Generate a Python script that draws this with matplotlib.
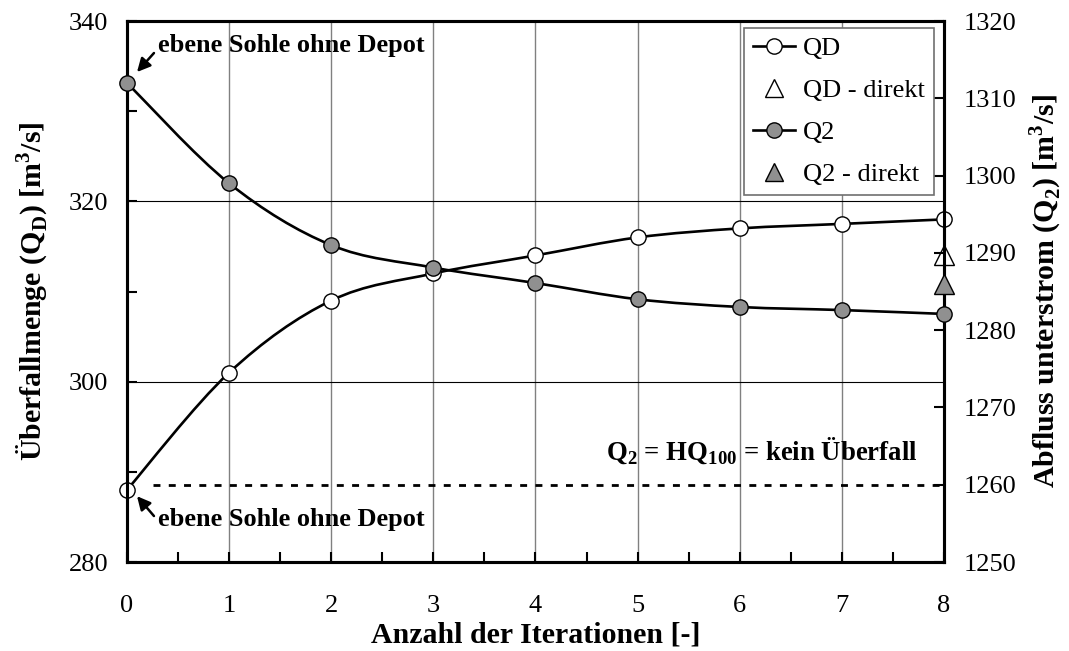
import numpy as np
import matplotlib
matplotlib.use('Agg')
import matplotlib.pyplot as plt
from matplotlib.path import Path
from matplotlib.patches import PathPatch
from matplotlib.lines import Line2D
from matplotlib.ticker import MultipleLocator

plt.rcParams['font.family'] = ['Liberation Serif', 'DejaVu Serif']
plt.rcParams['mathtext.fontset'] = 'custom'
plt.rcParams['mathtext.rm'] = 'Liberation Serif'
plt.rcParams['mathtext.bf'] = 'Liberation Serif:bold'

# Daten
iter_nr = [0, 1, 2, 3, 4, 5, 6, 7, 8]
qd = [288.0, 301.0, 309.0, 312.0, 314.0, 316.0, 317.0, 317.5, 318.0]
q2 = [1312.0, 1299.0, 1291.0, 1288.1, 1286.1, 1284.0, 1283.0, 1282.6, 1282.1]
qd_direkt = 314.0
q2_direkt = 1286.0
hq100 = 1260.0


def glatt(x, y):
    # geglaettete Linie wie in Excel (Bezier-Segmente durch die Punkte)
    p = np.column_stack([x, y]).astype(float)
    p = np.vstack([p[0], p, p[-1]])
    verts = [p[1]]
    codes = [Path.MOVETO]
    for i in range(1, len(p) - 2):
        c1 = p[i] + (p[i + 1] - p[i - 1]) / 6.0
        c2 = p[i + 1] - (p[i + 2] - p[i]) / 6.0
        verts += [c1, c2, p[i + 1]]
        codes += [Path.CURVE4] * 3
    return Path(verts, codes)


grau = '#909090'

fig = plt.figure(figsize=(10.69, 6.51), dpi=100)
ax = fig.add_axes([0.1188, 0.1367, 0.7642, 0.831])
ax2 = ax.twinx()

ax.set_xlim(0, 8)
ax.set_ylim(280, 340)
ax2.set_ylim(1250, 1320)

# Gitter
for xi in range(1, 8):
    ax.axvline(xi, color='#808080', lw=1.0, zorder=0)
for yi in [300, 320]:
    ax.axhline(yi, color='black', lw=0.8, zorder=0)

# QD
ax.add_patch(PathPatch(glatt(iter_nr, qd), fill=False, lw=1.9, color='black', zorder=2))
ax.plot(iter_nr, qd, 'o', ms=11, mfc='white', mec='black', mew=1.0, zorder=3, clip_on=False)
ax.plot([8], [qd_direkt], '^', ms=14, mfc='white', mec='black', mew=1.0, zorder=3, clip_on=False)

# Q2
ax2.add_patch(PathPatch(glatt(iter_nr, q2), fill=False, lw=1.9, color='black', zorder=2))
ax2.plot(iter_nr, q2, 'o', ms=11, mfc=grau, mec='black', mew=1.0, zorder=3, clip_on=False)
ax2.plot([8], [q2_direkt], '^', ms=14, mfc=grau, mec='black', mew=1.0, zorder=3, clip_on=False)

ax2.plot([0.25, 8], [hq100, hq100], color='black', lw=2.0, ls=(0, (2.5, 3)), zorder=2)
ax2.text(7.74, 1263.2, r'Q$_\mathbf{2}$ = HQ$_\mathbf{100}$ = kein Überfall',
         fontsize=19.3, fontweight='bold', ha='right', va='baseline')

# Beschriftungen mit Pfeil
pfeil = dict(arrowstyle='-|>', color='black', lw=1.8, mutation_scale=20, shrinkA=0, shrinkB=0)
ax2.annotate('', xy=(0.098, 1313.4), xytext=(0.264, 1315.86), arrowprops=pfeil)
ax2.text(0.30, 1316.8, 'ebene Sohle ohne Depot', fontsize=19, fontweight='bold',
         va='center', ha='left')
ax.annotate('', xy=(0.098, 287.3), xytext=(0.264, 285.1), arrowprops=pfeil)
ax.text(0.30, 284.7, 'ebene Sohle ohne Depot', fontsize=19, fontweight='bold',
        va='center', ha='left')

ax.set_xlabel('Anzahl der Iterationen [-]', fontsize=21.5, fontweight='bold', labelpad=3)
ax.set_ylabel(r'Überfallmenge (Q$_\mathbf{D}$) [m$^\mathbf{3}$/s]', fontsize=21.5, fontweight='bold', labelpad=13)
ax2.set_ylabel(r'Abfluss unterstrom (Q$_\mathbf{2}$) [m$^\mathbf{3}$/s]', fontsize=21.5, fontweight='bold', labelpad=8)

ax.xaxis.set_major_locator(MultipleLocator(1))
ax.xaxis.set_minor_locator(MultipleLocator(0.5))
ax.yaxis.set_major_locator(MultipleLocator(20))
ax.yaxis.set_minor_locator(MultipleLocator(10))
ax2.yaxis.set_major_locator(MultipleLocator(10))

ax.tick_params(axis='x', which='both', direction='in', top=False, labelsize=19, pad=24, length=7, width=1.5)
ax.tick_params(axis='y', which='both', direction='in', right=False, labelsize=19, pad=13.5, length=7, width=1.5)
ax2.tick_params(axis='y', which='both', direction='in', labelsize=19, pad=14.5, length=7, width=1.5)

for a in (ax, ax2):
    for s in a.spines.values():
        s.set_linewidth(2.2)

handles = [
    Line2D([], [], color='black', lw=1.9, marker='o', ms=11, mfc='white', mec='black'),
    Line2D([], [], ls='none', marker='^', ms=13, mfc='white', mec='black'),
    Line2D([], [], color='black', lw=1.9, marker='o', ms=11, mfc=grau, mec='black'),
    Line2D([], [], ls='none', marker='^', ms=13, mfc=grau, mec='black'),
]
labels = ['QD', 'QD - direkt', 'Q2', 'Q2 - direkt']
leg = ax2.legend(handles, labels, loc='upper right', bbox_to_anchor=(0.988, 0.988),
                 fontsize=19, frameon=True, fancybox=False, edgecolor='#707070',
                 handlelength=1.6, handletextpad=0.3, borderpad=0.35, labelspacing=0.7,
                 borderaxespad=0)
leg.get_frame().set_linewidth(1.2)
leg.get_frame().set_alpha(1)

fig.savefig('out.png', dpi=100)
